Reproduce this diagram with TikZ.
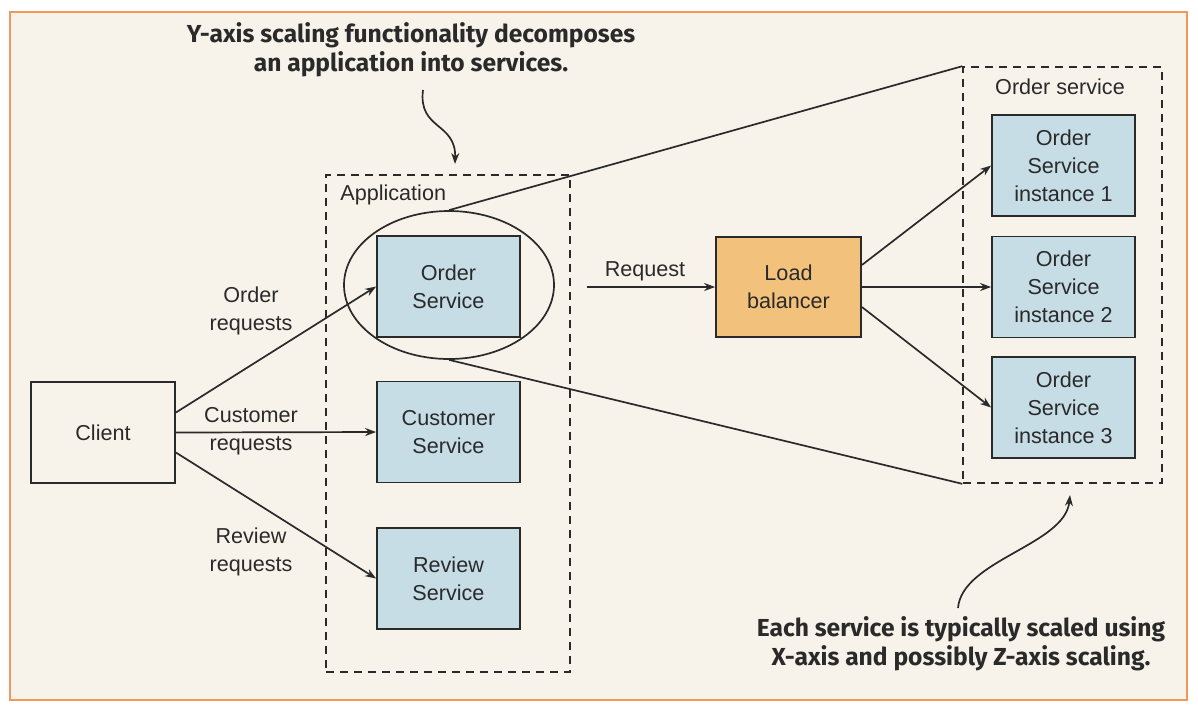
\documentclass[tikz,border=0pt]{standalone}
\usepackage{fontspec}
\setmainfont{Liberation Sans}
\newfontfamily\callfont{Fira Sans}
\usetikzlibrary{arrows.meta,shapes.geometric}
\definecolor{bgcream}{HTML}{F8F3EA}
\definecolor{frameorange}{HTML}{EE9A5E}
\definecolor{svcblue}{HTML}{C6DDE6}
\definecolor{lborange}{HTML}{F2C27C}
\definecolor{ink}{HTML}{2A2A2A}
\begin{document}
\begin{tikzpicture}[x=0.5pt,y=-0.5pt,
  every node/.style={font=\fontsize{10.8}{14}\selectfont, text=ink},
  svc/.style={draw=ink, line width=0.9pt, fill=svcblue, minimum width=71.5pt, minimum height=50.5pt, align=center, inner sep=0pt},
  lbbox/.style={draw=ink, line width=0.9pt, fill=lborange, minimum width=72.5pt, minimum height=50pt, align=center, inner sep=0pt},
  clbox/.style={draw=ink, line width=0.9pt, fill=bgcream, minimum width=72pt, minimum height=50.5pt, align=center, inner sep=0pt},
  group/.style={draw=ink, line width=0.8pt, dash pattern=on 4pt off 3pt, inner sep=0pt},
  lbl/.style={align=center, inner sep=0pt},
  call/.style={align=center, inner sep=0pt, font=\callfont\bfseries\fontsize{12.3}{14.5}\selectfont},
  arr/.style={draw=ink, line width=0.85pt, -{Stealth[length=5.5pt,width=4pt]}},
  conn/.style={draw=ink, line width=0.85pt}]
\useasboundingbox (0,0) rectangle (1198,714);
\fill[bgcream] (10,12) rectangle (1187,700);
\draw[frameorange, line width=1.2pt] (10,12) rectangle (1187,700);

% groups
\node[group, minimum width=122pt, minimum height=248.5pt] (app) at (448,423.5) {};
\node[group, minimum width=99.5pt, minimum height=208pt] (osg) at (1062.5,275) {};
\node[lbl, anchor=west] (applbl) at (340,195) {Application};
\node[lbl] (oslbl) at (1060,87) {Order service};

% ellipse
\node[draw=ink, line width=0.85pt, ellipse, minimum width=105pt, minimum height=74pt, inner sep=0pt] (ell) at (449,285) {};

% boxes
\node[clbox] (client) at (103,432.5) {Client};
\node[svc] (os) at (448.5,286.5) {Order\\Service};
\node[svc] (cs) at (448.5,432) {Customer\\Service};
\node[svc] (rs) at (448.5,578.5) {Review\\Service};
\node[lbbox] (lb) at (788.5,287) {Load\\balancer};
\node[svc] (i1) at (1063.5,165.5) {Order\\Service\\instance 1};
\node[svc] (i2) at (1063.5,287) {Order\\Service\\instance 2};
\node[svc] (i3) at (1063.5,407.5) {Order\\Service\\instance 3};

% labels
\node[lbl] (l1) at (251,311) {Order\\requests};
\node[lbl] (l2) at (251,431) {Customer\\requests};
\node[lbl] (l3) at (251,552) {Review\\requests};
\node[lbl] (l4) at (645,271) {Request};

% callouts
\node[call] (t1) at (411,50) {Y-axis scaling functionality decomposes\\an application into services.};
\node[call] (t2) at (961,644) {Each service is typically scaled using\\X-axis and possibly Z-axis scaling.};

% connectors
\draw[arr] ([yshift=10pt]client.east) -- (os.west);
\draw[arr] (client.east) -- (cs.west);
\draw[arr] ([yshift=-10pt]client.east) -- (rs.west);
\coordinate (reqstart) at (587,287);
\draw[arr] (reqstart) -- (lb.west);
\draw[arr] ([yshift=11pt]lb.east) -- (i1.west);
\draw[arr] (lb.east) -- (i2.west);
\draw[arr] ([yshift=-10pt]lb.east) -- (i3.west);
\draw[conn] (ell.north) -- (osg.north west);
\draw[conn] (ell.south) -- (osg.south west);

% callout arrows
\coordinate (c1s) at (423,90);
\coordinate (c1e) at (455,164);
\draw[arr] (c1s) .. controls (418,130) and (456,122) .. (c1e);
\coordinate (c2s) at (958,608);
\coordinate (c2e) at (1070,495);
\draw[arr] (c2s) .. controls (962,560) and (1065,545) .. (c2e);
\end{tikzpicture}
\end{document}
